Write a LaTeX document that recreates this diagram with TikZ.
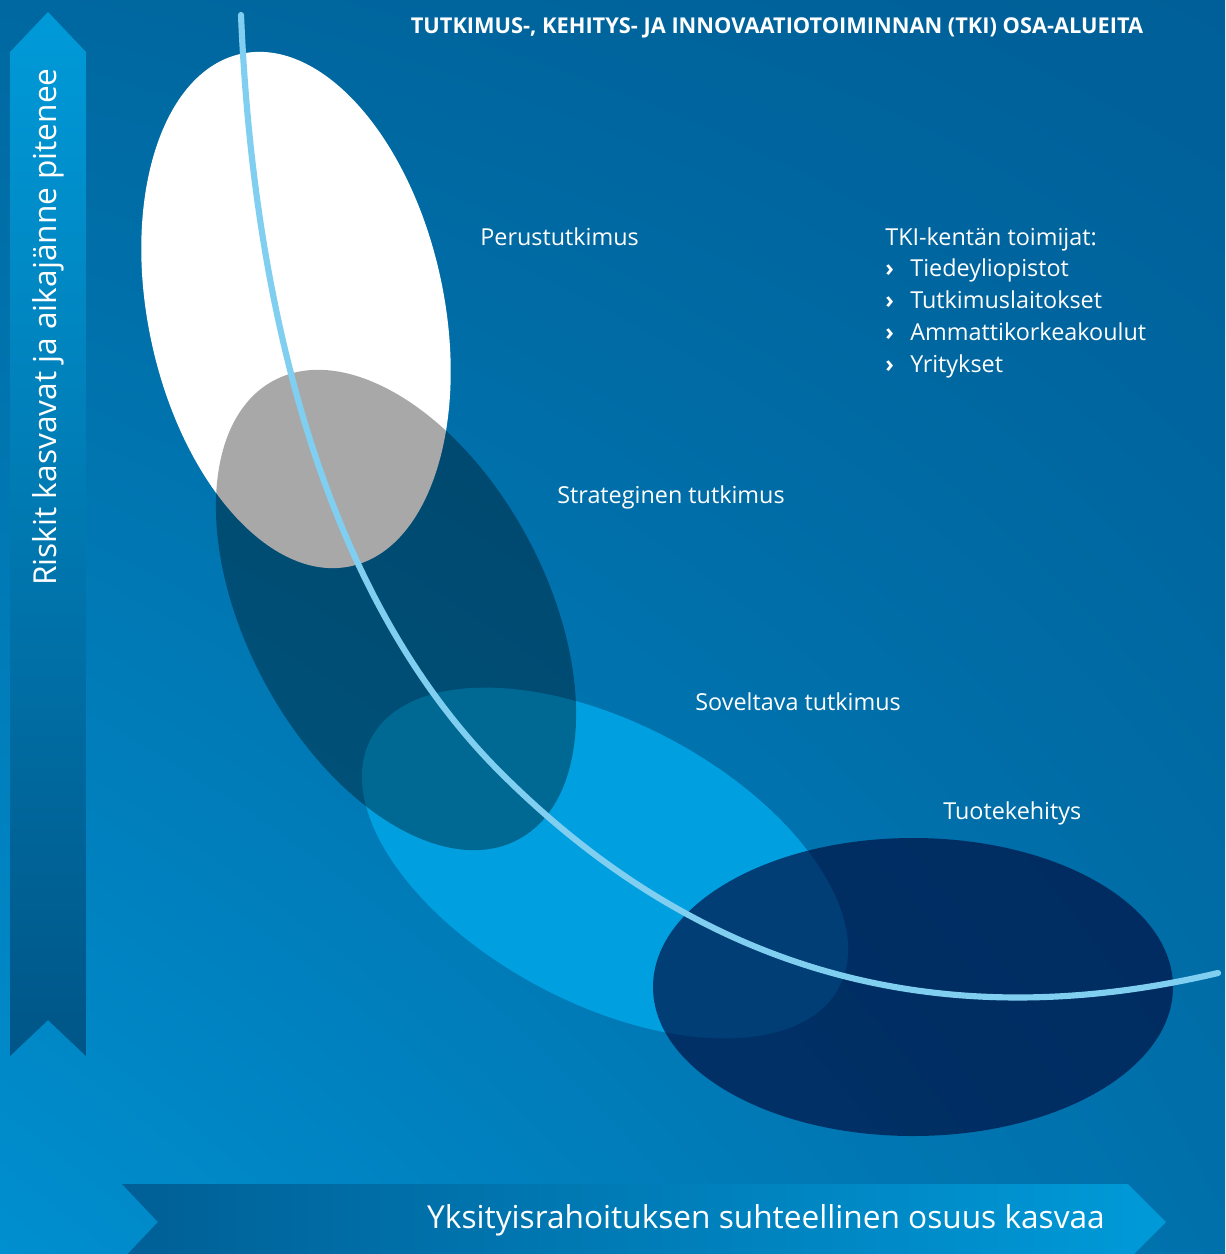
\documentclass[tikz,border=0pt]{standalone}
\usepackage{fontspec}
\setmainfont{Open Sans}
\usepackage{tikz}
\usetikzlibrary{positioning,shadings}
\definecolor{bgtopl}{HTML}{0068A0}
\definecolor{bgtopr}{HTML}{005F98}
\definecolor{bgbotl}{HTML}{008FD0}
\definecolor{bgbotr}{HTML}{0070AA}
\definecolor{arrlight}{HTML}{009AD9}
\definecolor{arrdark}{HTML}{005F96}
\definecolor{sovblue}{HTML}{00A0E0}
\definecolor{tuonavy}{HTML}{000A3C}
\definecolor{curveblue}{HTML}{80CEF0}

\begin{document}
\begin{tikzpicture}[x=0.02cm,y=0.02cm,
    lbl/.style={text=white,font=\fontsize{13.3}{15}\selectfont,anchor=base west,inner sep=0pt},
    item/.style={lbl,below=0.64cm of #1.base west,anchor=base west},
    axislbl/.style={text=white,font=\fontsize{18}{20}\selectfont,inner sep=0pt}]
     \useasboundingbox (0,0) rectangle (1225,-1254);
     \clip (0,0) rectangle (1225,-1254);
     \shade[upper left=bgtopl,upper right=bgtopr,lower left=bgbotl,lower right=bgbotr]
       (0,0) rectangle (1225,-1254);
     \shade[top color=arrlight,bottom color=arrdark!90!black]
       (10,-52) -- (48,-12) -- (86,-52) -- (86,-1056) -- (48,-1020) -- (10,-1056) -- cycle;
     \shade[left color=arrdark,right color=arrlight]
       (122,-1184) -- (1128,-1184) -- (1166,-1222) -- (1128,-1260) -- (122,-1260) -- (158,-1222) -- cycle;
     \fill[white,rotate around={12:(296,-310)}] (296,-310) ellipse [x radius=148,y radius=262];
     \fill[sovblue,rotate around={-28:(605,-863)}] (605,-863) ellipse [x radius=265,y radius=140];
     \fill[black,opacity=0.34,rotate around={28:(396,-610)}] (396,-610) ellipse [x radius=150,y radius=260];
     \fill[tuonavy,opacity=0.65] (913,-987) ellipse [x radius=260,y radius=149];
     \draw[curveblue,line width=3.5pt,line cap=round] (241,-15)
       .. controls (255,-345) and (340,-612) .. (500,-772)
       .. controls (670,-942) and (900,-1048) .. (1218,-973);
     \node[lbl] (perus) at (480,-245) {Perustutkimus};
     \node[lbl] (strat) at (557,-503) {Strateginen tutkimus};
     \node[lbl] (sovel) at (695,-710) {Soveltava tutkimus};
     \node[lbl] (tuote) at (943,-819) {Tuotekehitys};
     \node[lbl] (toim) at (885,-245) {TKI-kentän toimijat:};
     \node[item=toim] (tiede) {\makebox[0.5cm][l]{\textbf{›}}Tiedeyliopistot};
     \node[item=tiede] (tutk) {\makebox[0.5cm][l]{\textbf{›}}Tutkimuslaitokset};
     \node[item=tutk] (amk) {\makebox[0.5cm][l]{\textbf{›}}Ammattikorkeakoulut};
     \node[item=amk] (yrit) {\makebox[0.5cm][l]{\textbf{›}}Yritykset};
     \node[text=white,font=\bfseries\fontsize{12.4}{14}\selectfont,inner sep=0pt] (otsikko) at (777,-28)
       {TUTKIMUS-, KEHITYS- JA INNOVAATIOTOIMINNAN (TKI) OSA-ALUEITA};
     \node[axislbl,rotate=90] (riskit) at (48,-327) {Riskit kasvavat ja aikajänne pitenee};
     \node[axislbl] (yksit) at (766,-1220) {Yksityisrahoituksen suhteellinen osuus kasvaa};
\end{tikzpicture}
\end{document}
